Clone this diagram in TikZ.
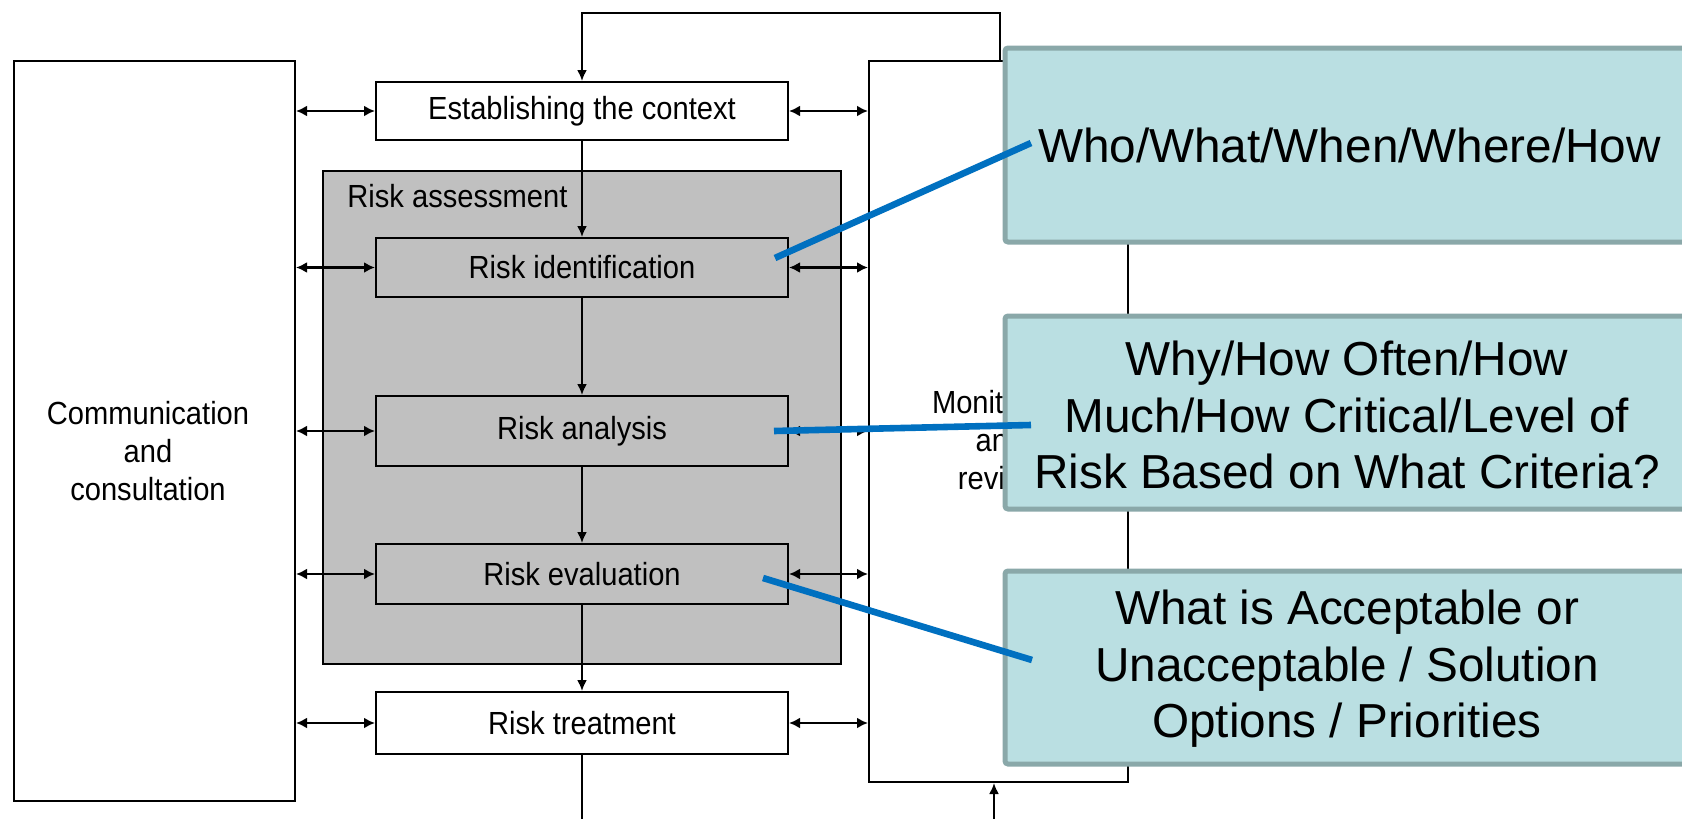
\documentclass[tikz,border=0pt]{standalone}
\usepackage{fontspec}
\setmainfont{Liberation Sans}
\usetikzlibrary{arrows.meta}
\definecolor{grayfill}{HTML}{C0C0C0}
\definecolor{callfill}{HTML}{BADFE2}
\definecolor{calldraw}{HTML}{8AA8A9}
\definecolor{linkblue}{HTML}{0070C0}
\newcommand\cond[1]{\scalebox{0.91}[1]{#1}}
\begin{document}
\begin{tikzpicture}[x=0.5pt,y=-0.5pt,
  bigbox/.style={draw=black,line width=1pt,inner sep=0pt},
  stepbox/.style={draw=black,line width=1pt,inner sep=0pt,minimum width=206pt,font=\fontsize{16}{19}\selectfont},
  difftext/.style={font=\fontsize{16}{19}\selectfont,align=center,inner sep=0pt},
  flow/.style={line width=1pt,-{Latex[length=5.5pt,width=5pt]}},
  dbl/.style={line width=1.4pt,{Latex[length=5.5pt,width=5.5pt]}-{Latex[length=5.5pt,width=5.5pt]}},
  callout/.style={draw=calldraw,fill=callfill,line width=2.5pt,rounded corners=1.5pt,inner sep=0pt,
    minimum width=344.5pt,align=center,font=\fontsize{23.85}{28.2}\selectfont},
  link/.style={draw=linkblue,line width=3.3pt}
]
\useasboundingbox (0,0) rectangle (1682,819);
\clip (0,0) rectangle (1682,819);

% large frames
\node[bigbox,minimum width=140.5pt,minimum height=370pt] (comm) at (154.5,431) {};
\node[difftext] (commtext) at (148,451) {\cond{Communication}\\\cond{and}\\\cond{consultation}};
\node[bigbox,minimum width=129.5pt,minimum height=360.5pt] (mon) at (998.5,421.5) {};
\node[difftext] (montext) at (1000,440) {\cond{Monitoring}\\\cond{and}\\\cond{review}};
\node[bigbox,fill=grayfill,minimum width=259pt,minimum height=246.5pt] (assess) at (582,417.5) {};
\node[difftext,anchor=west] (assesstext) at (347,196) {\cond{Risk assessment}};

% steps
\node[stepbox,fill=white,minimum height=29pt] (est) at (582,111) {\cond{Establishing the context}};
\node[stepbox,fill=grayfill,minimum height=29.5pt] (ident) at (582,267.5) {\cond{Risk identification}};
\node[stepbox,fill=grayfill,minimum height=35pt] (anal) at (582,431) {\cond{Risk analysis}};
\node[stepbox,fill=grayfill,minimum height=30pt] (eval) at (582,574) {\cond{Risk evaluation}};
\node[stepbox,fill=white,minimum height=31pt] (treat) at (582,723) {\cond{Risk treatment}};

% vertical flow
\draw[flow] (est) -- (ident);
\draw[flow] (ident) -- (anal);
\draw[flow] (anal) -- (eval);
\draw[flow] (eval) -- (treat);

% feedback loop on top
\coordinate (fbR) at (1000,13);
\coordinate (fbL) at (582,13);
\draw[flow] (fbR |- mon.north) -- (fbR) -- (fbL) -- (est.north);

% bottom lines
\coordinate (botL) at (582,819);
\coordinate (botR) at (994,819);
\draw[line width=1pt] (treat.south) -- (botL);
\draw[flow] (botR) -- (botR |- mon.south);

% double arrows
\foreach \n in {est,ident,anal,eval,treat}{
  \draw[dbl] (comm.east |- \n.west) -- (\n.west);
  \draw[dbl] (\n.east) -- (mon.west |- \n.east);
}

% callouts
\node[callout,minimum height=97pt] (c1) at (1349.5,145) {Who/What/When/Where/How};
\node[callout,minimum height=96.5pt] (c2) at (1349.5,412.5) {};
\node[align=center,inner sep=0pt,font=\fontsize{23.85}{28.2}\selectfont] (c2text) at (1347,415) {Why/How Often/How\\Much/How Critical/Level of\\Risk Based on What Criteria?};
\node[callout,minimum height=96.5pt] (c3) at (1349.5,667.5) {};
\node[align=center,inner sep=0pt,font=\fontsize{23.85}{28.2}\selectfont] (c3text) at (1347,669) {What is Acceptable or\\Unacceptable / Solution\\Options / Priorities};

% blue links
\coordinate (l1a) at (775,258);
\coordinate (l1b) at (1031,143);
\coordinate (l2a) at (774,431);
\coordinate (l2b) at (1031,425);
\coordinate (l3a) at (763,578);
\coordinate (l3b) at (1032,660);
\draw[link] (l1a) -- (l1b);
\draw[link] (l2a) -- (l2b);
\draw[link] (l3a) -- (l3b);
\end{tikzpicture}
\end{document}
